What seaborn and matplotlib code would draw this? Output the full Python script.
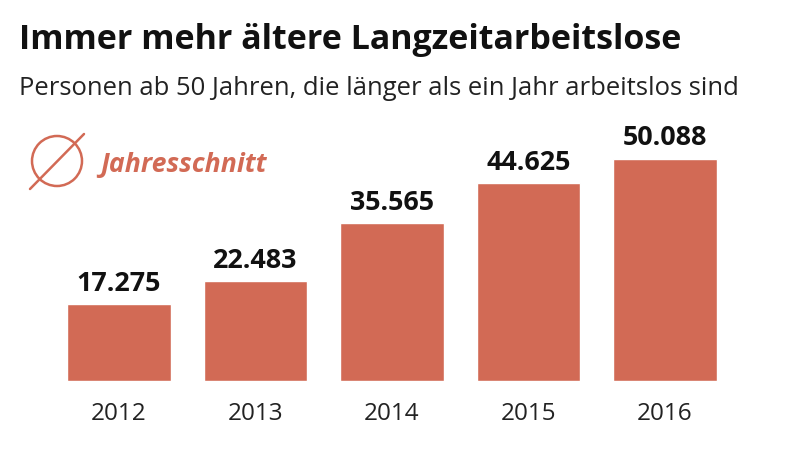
import matplotlib
matplotlib.use("Agg")
import matplotlib.pyplot as plt
import seaborn as sns

years = ["2012", "2013", "2014", "2015", "2016"]
values = [17275, 22483, 35565, 44625, 50088]
value_labels = ["17.275", "22.483", "35.565", "44.625", "50.088"]

BAR = "#d26a55"

sns.set_style("white")
plt.rcParams['font.family'] = ['Open Sans', 'DejaVu Sans']

fig = plt.figure(figsize=(8, 4.52), dpi=100)
ax = fig.add_axes([0, 70.5 / 452, 1, (452 - 70.5) / 452])

sns.barplot(x=years, y=values, color=BAR, width=0.76, saturation=1, ax=ax)

# bar pitch is 136.5 px, baseline sits at y=381 px
pitch = 136.5
ax.set_xlim(-119 / pitch, (800 - 119) / pitch)
ax.set_ylim(0, 381.5 * 50088 / (381.5 - 160))
ax.axis("off")

for i, (v, lab) in enumerate(zip(values, value_labels)):
    ax.annotate(lab, (i, v), xytext=(0, 15.5), textcoords="offset points", ha="center",
                va="center", fontsize=19.4, fontweight="bold", color="#111111")

for i, y in enumerate(years):
    ax.annotate(y, (i, 0), xytext=(0, -23.5), textcoords="offset points", ha="center",
                va="center", fontsize=17.5, color="#222222")

fig.text(19 / 800, 1 - 40 / 452, "Immer mehr ältere Langzeitarbeitslose", fontsize=24.45,
         fontweight="bold", color="#111111", va="center")
fig.text(19 / 800, 1 - 88.5 / 452, "Personen ab 50 Jahren, die länger als ein Jahr arbeitslos sind",
         fontsize=18.42, color="#222222", va="center")

# average symbol, drawn in figure pixels
over = fig.add_axes([0, 0, 1, 1], facecolor="none")
over.set_xlim(0, 800)
over.set_ylim(452, 0)
over.axis("off")
over.add_patch(plt.Circle((57, 162), 25, fill=False, ec=BAR, lw=1.8))
over.plot([30, 84], [190, 135], color=BAR, lw=1.8)
over.text(100, 165, "Jahresschnitt", fontsize=19.2, fontweight="bold", style="italic",
          color=BAR, va="center")

fig.savefig("out.png", dpi=100)
